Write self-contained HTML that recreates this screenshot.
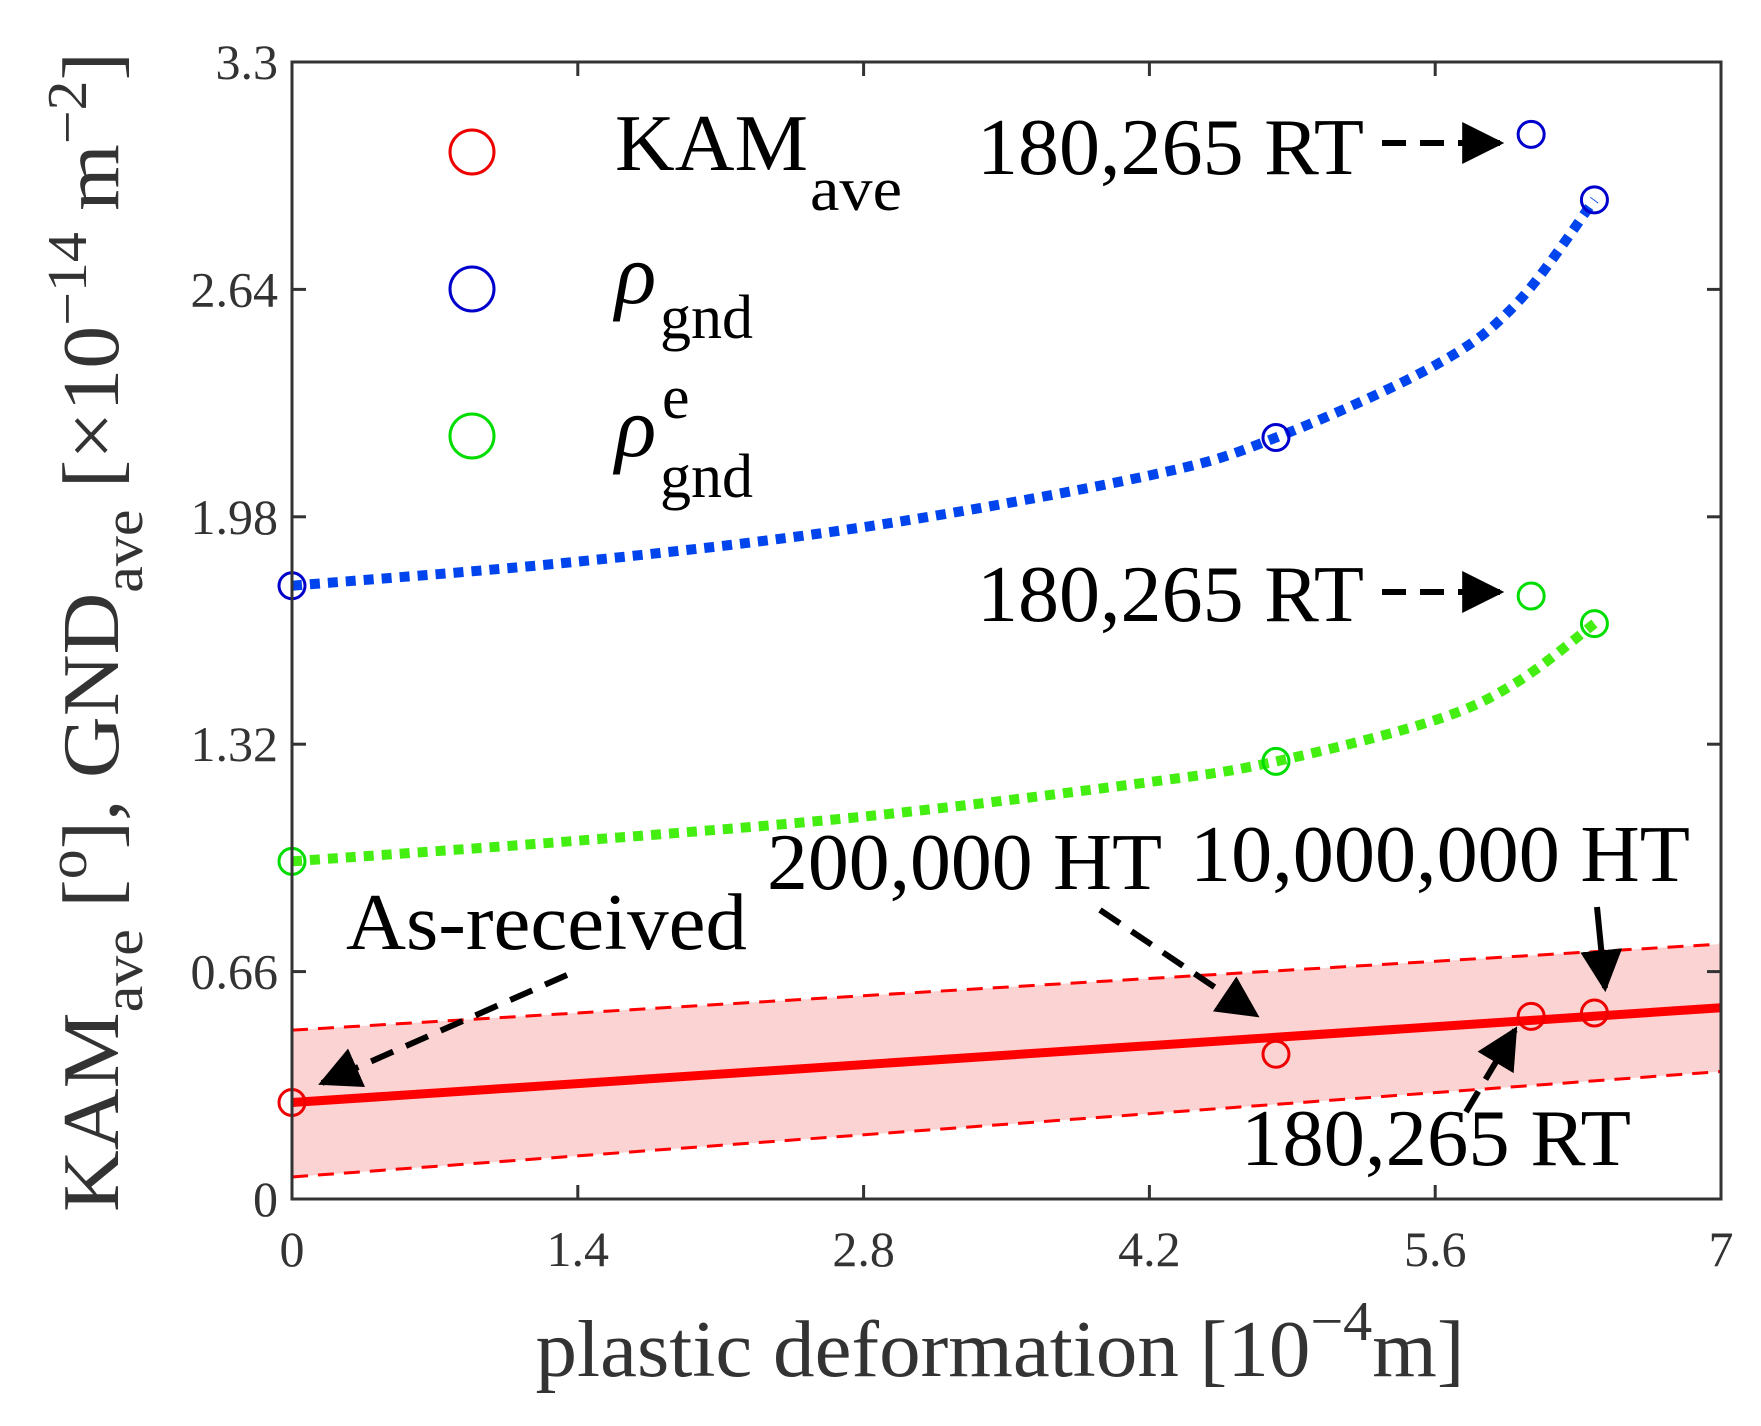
<!DOCTYPE html>
<html><head><meta charset="utf-8"><style>
html,body{margin:0;padding:0;background:#fff;}
svg{display:block;font-family:"Liberation Serif",serif;}
</style></head><body>
<svg id="chart" width="1761" height="1426" viewBox="0 0 1761 1426">
<defs>
<marker id="ah" viewBox="0 0 10 10" refX="9" refY="5" markerWidth="7" markerHeight="7" orient="auto" markerUnits="strokeWidth"><path d="M0,0 L10,5 L0,10 z" fill="#000"/></marker>
</defs>
<g id="band"></g>
<g id="series"></g>
<rect x="292" y="62" width="1429" height="1137" fill="none" stroke="#333" stroke-width="3"/>
<g id="ticks"></g>
<g font-size="80">
 <circle cx="472" cy="152" r="22" fill="none" stroke="#e00" stroke-width="3"/>
 <text x="615" y="170"><tspan textLength="193" lengthAdjust="spacingAndGlyphs">KAM</tspan><tspan x="810" dy="40" font-size="62" textLength="92" lengthAdjust="spacingAndGlyphs">ave</tspan></text>
 <circle cx="472" cy="289" r="22" fill="none" stroke="#00c" stroke-width="3"/>
 <text x="615" y="303" font-style="italic" font-size="86">ρ<tspan font-style="normal" x="660" y="338" font-size="62">gnd</tspan></text>
 <circle cx="472" cy="436" r="22" fill="none" stroke="#0d0" stroke-width="3"/>
 <text x="615" y="456" font-style="italic" font-size="86">ρ<tspan font-style="normal" x="662" y="418" font-size="62">e</tspan><tspan font-style="normal" x="660" y="497" font-size="62">gnd</tspan></text>
</g>
<g font-size="80" fill="#000">
 <text x="977" y="174" textLength="387" lengthAdjust="spacingAndGlyphs">180,265 RT</text>
 <line x1="1382" y1="143" x2="1500" y2="143" stroke="#000" stroke-width="6" stroke-dasharray="24,14" marker-end="url(#ah)"/>
 <text x="977" y="621" textLength="387" lengthAdjust="spacingAndGlyphs">180,265 RT</text>
 <line x1="1382" y1="592" x2="1500" y2="592" stroke="#000" stroke-width="6" stroke-dasharray="24,14" marker-end="url(#ah)"/>
 <text x="767" y="889" textLength="395" lengthAdjust="spacingAndGlyphs">200,000 HT</text>
 <line x1="1100" y1="910" x2="1256" y2="1015" stroke="#000" stroke-width="6" stroke-dasharray="24,14" marker-end="url(#ah)"/>
 <text x="1190" y="881" textLength="500" lengthAdjust="spacingAndGlyphs">10,000,000 HT</text>
 <line x1="1597" y1="907" x2="1605" y2="988" stroke="#000" stroke-width="6" marker-end="url(#ah)"/>
 <text x="346" y="949" textLength="401" lengthAdjust="spacingAndGlyphs">As-received</text>
 <line x1="567" y1="975" x2="322" y2="1083" stroke="#000" stroke-width="6" stroke-dasharray="24,14" marker-end="url(#ah)"/>
 <text x="1241" y="1165" textLength="390" lengthAdjust="spacingAndGlyphs">180,265 RT</text>
 <line x1="1466" y1="1112" x2="1515" y2="1030" stroke="#000" stroke-width="6" stroke-dasharray="24,14" marker-end="url(#ah)"/>
</g>
<text x="1000" y="1376" text-anchor="middle" font-size="80" fill="#333" textLength="929" lengthAdjust="spacingAndGlyphs">plastic deformation [10<tspan dy="-36" font-size="56">−4</tspan><tspan dy="36">m]</tspan></text>
<text transform="translate(118,632) rotate(-90)" text-anchor="middle" font-size="80" fill="#333" textLength="1160" lengthAdjust="spacingAndGlyphs">KAM<tspan dy="24" font-size="56">ave</tspan><tspan dy="-24"> [</tspan><tspan dy="-32" font-size="56">o</tspan><tspan dy="32">], GND</tspan><tspan dy="24" font-size="56">ave</tspan><tspan dy="-24"> [×10</tspan><tspan dy="-32" font-size="56">−14</tspan><tspan dy="32"> m</tspan><tspan dy="-32" font-size="56">−2</tspan><tspan dy="32">]</tspan></text>
</svg>
<script>
const xTicks=[0,1.4,2.8,4.2,5.6,7];
const xTickLabels=["0","1.4","2.8","4.2","5.6","7"];
const yTicks=[0,0.66,1.32,1.98,2.64,3.3];
const yTickLabels=["0","0.66","1.32","1.98","2.64","3.3"];
const xPts=[0,4.82,6.07,6.38];
const kamVals=[0.28,0.42,0.53,0.54];
const rhoVals=[1.78,2.21,3.09,2.90];
const rhoEVals=[0.98,1.27,1.75,1.67];
const fitX=[0,1.4,2.8,4.2,4.82,5.6,6.0,6.38];
const rhoFit=[1.78,1.85,1.95,2.10,2.21,2.42,2.60,2.90];
const rhoEFit=[0.98,1.04,1.11,1.21,1.27,1.39,1.50,1.67];
const kamLineX=[0,7];
const kamLine=[0.28,0.555];
const kamUpper=[0.49,0.74];
const kamLower=[0.064,0.37];

const X0=292,X1=1721,Y0=1199,Y1=62;
const sx=v=>X0+(v-0)/(7-0)*(X1-X0);
const sy=v=>Y0-(v-0)/(3.3-0)*(Y0-Y1);
const NS="http://www.w3.org/2000/svg";
function mk(tag,attrs,parent){const e=document.createElementNS(NS,tag);for(const k in attrs)e.setAttribute(k,attrs[k]);parent.appendChild(e);return e;}
const band=document.getElementById('band'),ser=document.getElementById('series'),tk=document.getElementById('ticks');

let bp=mk('polygon',{points:[sx(kamLineX[0])+','+sy(kamUpper[0]),sx(kamLineX[1])+','+sy(kamUpper[1]),sx(kamLineX[1])+','+sy(kamLower[1]),sx(kamLineX[0])+','+sy(kamLower[0])].join(' '),fill:'#fbd3d3'},band);


[[kamUpper,'kam-upper-bound'],[kamLower,'kam-lower-bound']].forEach(([arr,nm])=>{
 const l=mk('line',{x1:sx(kamLineX[0]),y1:sy(arr[0]),x2:sx(kamLineX[1]),y2:sy(arr[1]),stroke:'#f00','stroke-width':3,'stroke-dasharray':'16,10'},band);
 
 
});
const kl=mk('line',{x1:sx(kamLineX[0]),y1:sy(kamLine[0]),x2:sx(kamLineX[1]),y2:sy(kamLine[1]),stroke:'#f00','stroke-width':9},ser);



function spline(xs,ys){
 const p=xs.map((x,i)=>[sx(x),sy(ys[i])]);let d='M'+p[0][0]+','+p[0][1];
 for(let i=0;i<p.length-1;i++){const a=p[Math.max(0,i-1)],b=p[i],c=p[i+1],e=p[Math.min(p.length-1,i+2)];
  const c1=[b[0]+(c[0]-a[0])/6,b[1]+(c[1]-a[1])/6],c2=[c[0]-(e[0]-b[0])/6,c[1]-(e[1]-b[1])/6];
  d+=' C'+c1+' '+c2+' '+c;}
 return d;}
const bf=mk('path',{d:spline(fitX,rhoFit),fill:'none',stroke:'#0044ee','stroke-width':10,'stroke-dasharray':'10,8'},ser);


const gf=mk('path',{d:spline(fitX,rhoEFit),fill:'none',stroke:'#44ee11','stroke-width':10,'stroke-dasharray':'10,8'},ser);



[[kamVals,'#e00','kam-point'],[rhoVals,'#00c','rho-gnd-point'],[rhoEVals,'#0d0','rho-gnd-e-point']].forEach(([arr,col,nm])=>{
 arr.forEach((v,i)=>{const c=mk('circle',{cx:sx(xPts[i]),cy:sy(v),r:13,fill:'none',stroke:col,'stroke-width':3},ser);
  
  });
});

xTicks.forEach((v,i)=>{
 const a=mk('line',{x1:sx(v),y1:Y0,x2:sx(v),y2:Y0-14,stroke:'#333','stroke-width':3},tk);
 
 
 const b=mk('line',{x1:sx(v),y1:Y1,x2:sx(v),y2:Y1+14,stroke:'#333','stroke-width':3},tk);
 
 
 const t=mk('text',{x:sx(v),y:1266,'text-anchor':'middle','font-size':50,fill:'#333'},tk);t.textContent=xTickLabels[i];
 
 
});
yTicks.forEach((v,i)=>{
 const a=mk('line',{x1:X0,y1:sy(v),x2:X0+14,y2:sy(v),stroke:'#333','stroke-width':3},tk);
 
 
 const b=mk('line',{x1:X1,y1:sy(v),x2:X1-14,y2:sy(v),stroke:'#333','stroke-width':3},tk);
 
 
 const t=mk('text',{x:278,y:sy(v)+17,'text-anchor':'end','font-size':50,fill:'#333'},tk);t.textContent=yTickLabels[i];
 
 
});
</script>
</body></html>
